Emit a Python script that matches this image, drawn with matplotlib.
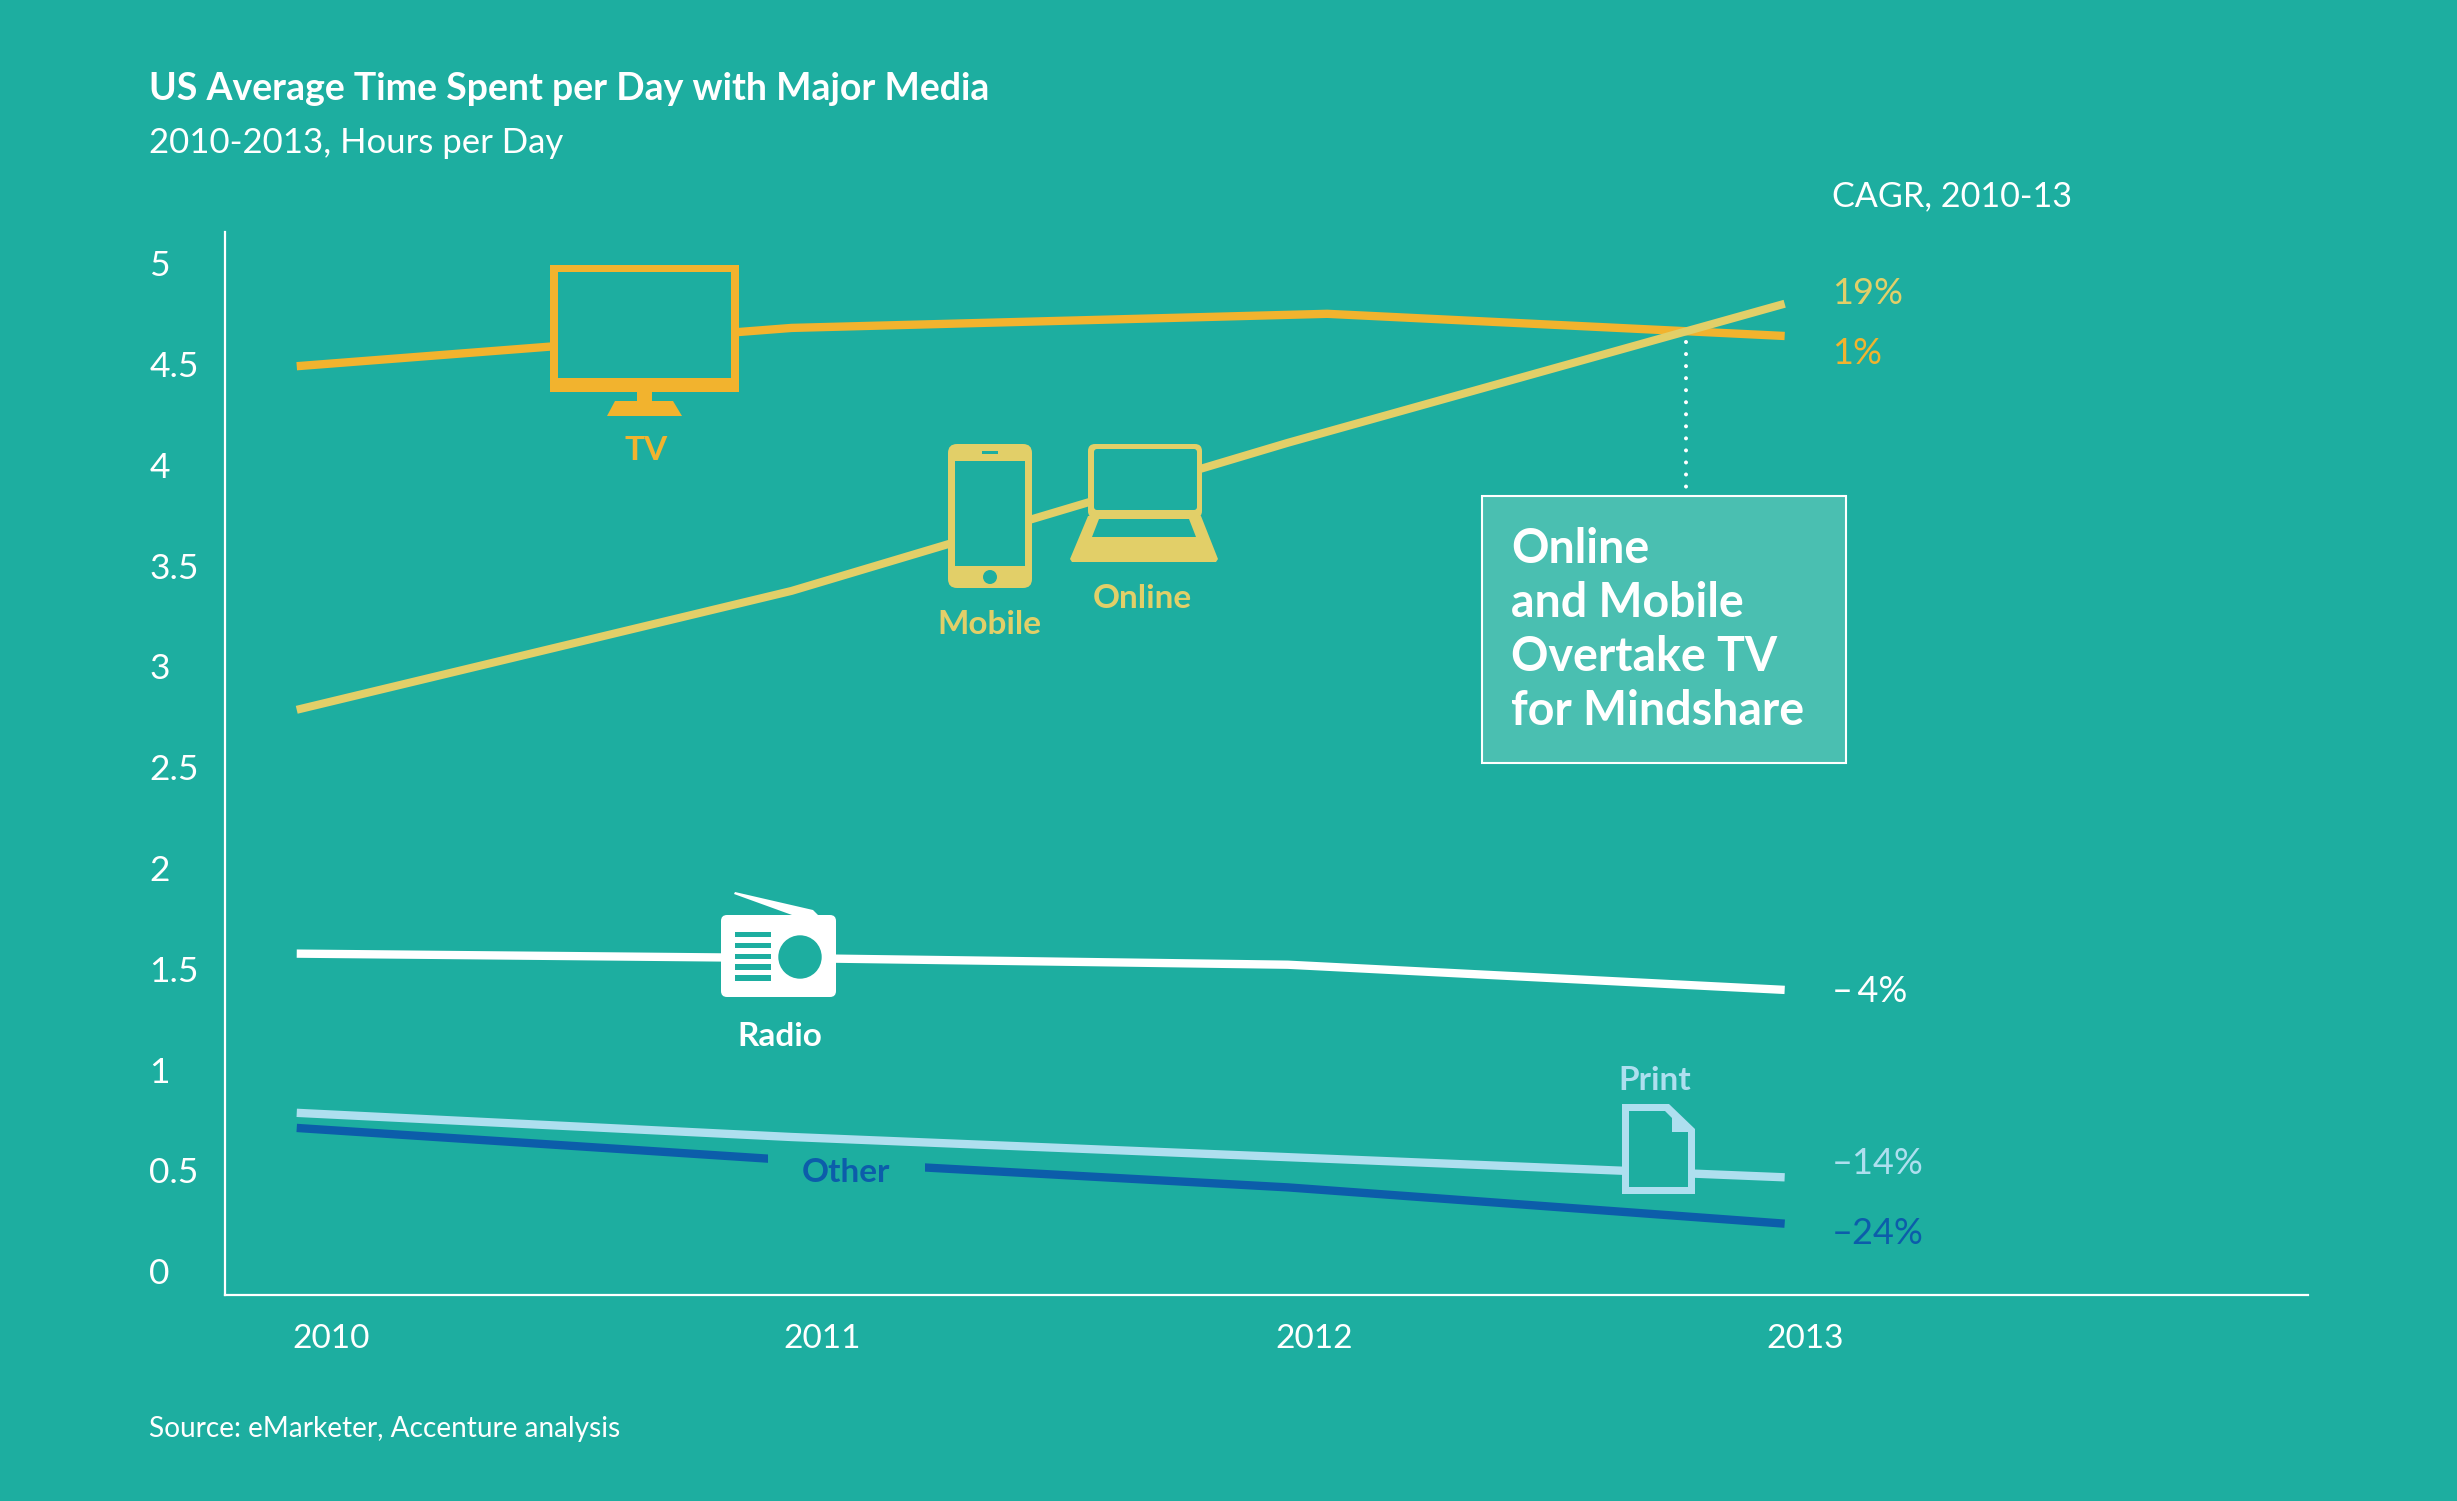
"""US average time spent per day with major media, 2010-2013."""

import matplotlib
matplotlib.use("Agg")
import matplotlib.pyplot as plt
from matplotlib.patches import Circle, FancyBboxPatch, Polygon, Rectangle
from matplotlib.transforms import Affine2D

W, H = 2457, 1501

BG = "#1DAEA0"
TV_COL = "#F2B32E"
ONLINE_COL = "#E2CF68"
PRINT_COL = "#AEDFEF"
OTHER_COL = "#0C5DAA"
WHITE = "#FFFFFF"

YEARS = [2010, 2011, 2012, 2013]
LINE_X = [2009.93, 2010.937, 2011.947, 2012.958]
TV_X = [2009.93, 2010.937, 2012.027, 2012.958]
TV = [4.49, 4.68, 4.75, 4.64]
ONLINE = [2.785, 3.375, 4.11, 4.80]
RADIO = [1.575, 1.553, 1.52, 1.395]
PRINT = [0.785, 0.665, 0.565, 0.465]
OTHER = [0.71, 0.55, 0.415, 0.235]

Y_TICKS = [0, 0.5, 1, 1.5, 2, 2.5, 3, 3.5, 4, 4.5, 5]
Y_LABELS = ["0", "0.5", "1", "1.5", "2", "2.5", "3", "3.5", "4", "4.5", "5"]

CAGR_LABELS = ["19%", "1%", "–\u20094%", "–14%", "–24%"]
CAGR_COLORS = [ONLINE_COL, TV_COL, WHITE, PRINT_COL, OTHER_COL]
CAGR_Y = [294, 354, 992, 1164, 1233]

plt.rcParams["font.family"] = ["Lato", "DejaVu Sans"]

fig = plt.figure(figsize=(W / 100, H / 100), dpi=100, facecolor=BG)
ax = fig.add_axes([224.5 / W, 1 - 1295 / H, (2308 - 224.5) / W, (1295 - 232) / H])
ax.set_facecolor(BG)

# координаты картинки в пикселях, y вниз - для подписей и иконок
PX = Affine2D().scale(1 / W, -1 / H).translate(0, 1) + fig.transFigure


def poly(points, color, z):
    ax.add_patch(Polygon(points, closed=True, fc=color, ec="none", transform=PX,
                         clip_on=False, zorder=z))


def rect(x0, y0, x1, y1, color, z):
    ax.add_patch(Rectangle((x0, y0), x1 - x0, y1 - y0, fc=color, ec="none",
                           transform=PX, clip_on=False, zorder=z))


def rrect(x0, y0, x1, y1, r, color, z):
    ax.add_patch(FancyBboxPatch((x0, y0), x1 - x0, y1 - y0,
                                boxstyle=f"round,pad=0,rounding_size={r}",
                                fc=color, ec="none", transform=PX, clip_on=False,
                                zorder=z))


def label(x, y, s, color=WHITE, size=24, weight="normal", ha="left", z=12):
    ax.text(x, y, s, color=color, fontsize=size, fontweight=weight, ha=ha,
            va="center", transform=PX, clip_on=False, zorder=z)


ax.plot(LINE_X, OTHER, color=OTHER_COL, lw=6, solid_capstyle="butt", zorder=2)
rect(768, 1130, 925, 1180, BG, 3)  # разрыв под подпись Other
ax.plot(LINE_X, PRINT, color=PRINT_COL, lw=6, solid_capstyle="butt", zorder=4)
ax.plot(LINE_X, RADIO, color=WHITE, lw=6, solid_capstyle="butt", zorder=4)
ax.plot(TV_X, TV, color=TV_COL, lw=6, solid_capstyle="butt", zorder=4)
ax.plot(LINE_X, ONLINE, color=ONLINE_COL, lw=5.8, solid_capstyle="butt", zorder=5)

# TV
rect(550, 265, 739, 392, TV_COL, 6)
rect(558, 272, 731, 378, BG, 7)
rect(637, 392, 652, 402, TV_COL, 6)
poly([(615, 401), (673, 401), (682, 416), (607, 416)], TV_COL, 6)

# телефон
rrect(948, 444, 1032, 588, 9, ONLINE_COL, 6)
rect(955, 461, 1025, 566, BG, 7)
rect(982, 451, 998, 454, BG, 7)
ax.add_patch(Circle((990, 577), 7, fc=BG, ec="none", transform=PX, zorder=7))

# ноутбук
poly([(1088, 516), (1201, 516), (1218, 559), (1216, 562), (1072, 562), (1070, 559)],
     ONLINE_COL, 6)
poly([(1099, 519), (1189, 519), (1196, 537), (1092, 537)], BG, 7)
rrect(1088, 444, 1202, 518, 7, ONLINE_COL, 6)
rrect(1094, 449, 1197, 510, 3, BG, 7)

# радио
poly([(735, 892), (813, 910), (818, 915), (792, 915), (734, 894)], WHITE, 6)
rrect(721, 915, 836, 997, 6, WHITE, 6)
ax.add_patch(Circle((800, 957), 21.7, fc=BG, ec="none", transform=PX, zorder=7))
for y0, y1 in [(932, 937), (943, 948), (954, 959), (964, 970), (975, 981)]:
    rect(735, y0, 771, y1, BG, 7)

# документ
poly([(1622, 1104), (1669, 1104), (1695, 1129), (1695, 1194), (1622, 1194)], PRINT_COL, 6)
poly([(1629, 1111), (1665, 1111), (1672, 1118), (1672, 1132), (1688, 1132),
      (1688, 1187), (1629, 1187)], BG, 7)

# выноска: круглые точки с шагом 12 px
ax.plot([1686, 1686], [342, 490], color=WHITE, lw=2.9, ls=(0, (0.01, 2.98)),
        dash_capstyle="round", transform=PX, clip_on=False, zorder=6)
ax.add_patch(Rectangle((1482, 496), 364, 267, fc="#4ABFB1", ec=WHITE, lw=1.5,
                       transform=PX, clip_on=False, zorder=6))
for y, s in zip([549, 603, 657, 711],
                ["Online", "and Mobile", "Overtake TV", "for Mindshare"]):
    label(1511, y, s, size=33.5, weight="bold")

label(149, 89, "US Average Time Spent per Day with Major Media", size=27, weight="bold")
label(149, 143, "2010-2013, Hours per Day", size=25)
label(1832, 196, "CAGR, 2010-13", size=24.6)
label(149, 1429, "Source: eMarketer, Accenture analysis", size=20.2)

label(646, 451, "TV", TV_COL, 24, "bold", "center")
label(989, 625, "Mobile", ONLINE_COL, 24, "bold", "center")
label(1142, 598, "Online", ONLINE_COL, 24, "bold", "center")
label(780, 1037, "Radio", WHITE, 24, "bold", "center")
label(1655, 1080, "Print", PRINT_COL, 24, "bold", "center")
label(846, 1173, "Other", OTHER_COL, 24, "bold", "center")

for y, s, c in zip(CAGR_Y, CAGR_LABELS, CAGR_COLORS):
    label(1832, y, s, c, 26)

ax.set_xlim(2009.783, 2014.023)
ax.set_ylim(-0.119, 5.156)
ax.set_xticks(YEARS)
ax.set_xticklabels([str(v) for v in YEARS], fontsize=24, color=WHITE)
ax.set_yticks(Y_TICKS)
ax.set_yticklabels(Y_LABELS, fontsize=25.5, color=WHITE, ha="left", va="center_baseline")
ax.tick_params(axis="both", length=0)
ax.tick_params(axis="x", pad=21)
ax.tick_params(axis="y", pad=54)
ax.spines[["top", "right"]].set_visible(False)
ax.spines[["left", "bottom"]].set_color(WHITE)
ax.spines[["left", "bottom"]].set_linewidth(1.6)

fig.savefig("out.png", dpi=100, facecolor=BG)
